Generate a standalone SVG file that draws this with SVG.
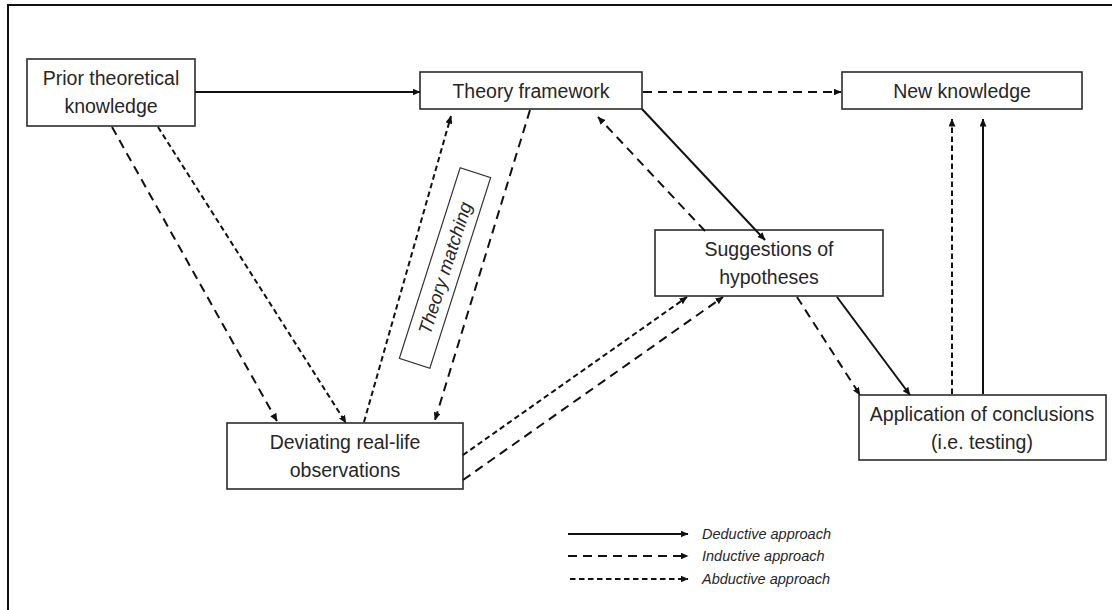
<svg xmlns="http://www.w3.org/2000/svg" width="1112" height="610" viewBox="0 0 1112 610">
  <style>
    .box { fill: #ffffff; stroke: #2b2b2b; stroke-width: 1.6; }
    .lbl { font-family: "Liberation Sans", Arial, sans-serif; font-size: 19.5px; fill: #262626; text-anchor: middle; }
    .leg { font-family: "Liberation Sans", Arial, sans-serif; font-size: 14.5px; font-style: italic; fill: #262626; }
    .ded { stroke: #111; stroke-width: 2; fill: none; marker-end: url(#head); }
    .ind { stroke: #111; stroke-width: 2; fill: none; stroke-dasharray: 9 6; marker-end: url(#head); }
    .abd { stroke: #111; stroke-width: 2; fill: none; stroke-dasharray: 5.5 3.5; marker-end: url(#head); }
  </style>
  <defs>
    <marker id="head" markerUnits="userSpaceOnUse" markerWidth="8" markerHeight="7" refX="7.5" refY="3.5" orient="auto">
      <path d="M0,0 L8,3.5 L0,7 z" fill="#111"/>
    </marker>
  </defs>

  <rect width="1112" height="610" fill="#ffffff"/>
  <!-- frame (top and left edges visible) -->
  <path d="M8,612 L8,5 L1114,5" fill="none" stroke="#111" stroke-width="2"/>

  <g id="prior">
    <rect class="box" x="27" y="59" width="168" height="67"/>
    <text class="lbl" x="111" y="85">Prior theoretical</text>
    <text class="lbl" x="111" y="113">knowledge</text>
  </g>

  <g id="theory">
    <rect class="box" x="420" y="72" width="222" height="37"/>
    <text class="lbl" x="531" y="98">Theory framework</text>
  </g>

  <g id="new-knowledge">
    <rect class="box" x="842" y="72" width="240" height="37"/>
    <text class="lbl" x="962" y="98">New knowledge</text>
  </g>

  <g id="suggestions">
    <rect class="box" x="655" y="230" width="228" height="66"/>
    <text class="lbl" x="769" y="256">Suggestions of</text>
    <text class="lbl" x="769" y="284">hypotheses</text>
  </g>

  <g id="deviating">
    <rect class="box" x="227" y="423" width="236" height="66"/>
    <text class="lbl" x="345" y="449">Deviating real-life</text>
    <text class="lbl" x="345" y="477">observations</text>
  </g>

  <g id="application">
    <rect class="box" x="859" y="395" width="247" height="65"/>
    <text class="lbl" x="982" y="421">Application of conclusions</text>
    <text class="lbl" x="982" y="449">(i.e. testing)</text>
  </g>

  <g id="theory-matching" transform="translate(445,268) rotate(-72.3)">
    <rect x="-100" y="-16" width="200" height="32" fill="#ffffff" stroke="#333" stroke-width="1.2"/>
    <text class="leg" x="0" y="6.5" text-anchor="middle" style="font-size:18.5px">Theory matching</text>
  </g>

  <!-- connectors, drawn over the boxes -->
  <g id="connectors">
    <line class="ded" x1="195" y1="92" x2="420" y2="92"/>
    <line class="ind" x1="643" y1="92" x2="841" y2="92"/>
    <line class="ded" x1="642" y1="109" x2="765" y2="240"/>
    <line class="ind" x1="705" y1="231" x2="598" y2="117"/>
    <line class="ind" x1="112" y1="127" x2="277" y2="421"/>
    <line class="abd" x1="158" y1="127" x2="346" y2="423"/>
    <line class="abd" x1="364" y1="422" x2="451" y2="116"/>
    <line class="ind" x1="530" y1="110" x2="435" y2="420"/>
    <line class="abd" x1="463" y1="455" x2="687" y2="297"/>
    <line class="ind" x1="463" y1="480" x2="723" y2="297"/>
    <line class="ind" x1="797" y1="297" x2="860" y2="395"/>
    <line class="ded" x1="837" y1="297" x2="910" y2="395"/>
    <line class="abd" x1="952" y1="394" x2="952" y2="119"/>
    <line class="ded" x1="983" y1="394" x2="983" y2="119"/>
  </g>

  <!-- legend -->
  <g id="legend">
    <line class="ded" x1="568" y1="534" x2="688" y2="534"/>
    <line class="ind" x1="568" y1="556" x2="688" y2="556"/>
    <line class="abd" x1="570" y1="579" x2="688" y2="579"/>
    <text class="leg" x="702" y="539">Deductive approach</text>
    <text class="leg" x="702" y="561">Inductive approach</text>
    <text class="leg" x="702" y="584">Abductive approach</text>
  </g>
</svg>
